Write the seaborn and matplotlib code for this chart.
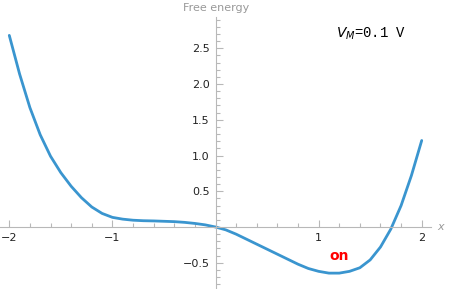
import numpy as np
import matplotlib
matplotlib.use("Agg")
import matplotlib.pyplot as plt
import seaborn as sns
from matplotlib.ticker import MultipleLocator, FixedLocator

# curve (x step 0.1)
x_vals = [-2.0, -1.9, -1.8, -1.7, -1.6, -1.5, -1.4, -1.3, -1.2, -1.1,
          -1.0, -0.9, -0.8, -0.7, -0.6, -0.5, -0.4, -0.3, -0.2, -0.1,
          0.0, 0.1, 0.2, 0.3, 0.4, 0.5, 0.6, 0.7, 0.8, 0.9,
          1.0, 1.1, 1.2, 1.3, 1.4, 1.5, 1.6, 1.7, 1.8, 1.9, 2.0]
energy = [2.68, 2.14, 1.67, 1.29, 0.99, 0.76, 0.57, 0.41, 0.28, 0.19,
          0.135, 0.11, 0.095, 0.088, 0.085, 0.08, 0.075, 0.065, 0.05, 0.03,
          0.0, -0.04, -0.10, -0.17, -0.24, -0.31, -0.38, -0.45, -0.52, -0.58,
          -0.62, -0.645, -0.645, -0.62, -0.57, -0.46, -0.28, -0.03, 0.30, 0.72, 1.21]

x_ticks = [-2, -1, 1, 2]
x_ticklabels = ["\u22122", "\u22121", "1", "2"]
y_ticks = [-0.5, 0.5, 1.0, 1.5, 2.0, 2.5]
y_ticklabels = ["\u22120.5", "0.5", "1.0", "1.5", "2.0", "2.5"]

sns.set_style("white")
plt.rcParams["font.family"] = ["DejaVu Sans"]

fig = plt.figure(figsize=(4.49, 2.89), dpi=100)
ax = fig.add_axes([0, 0, 431 / 449, 272 / 289])

sns.lineplot(x=x_vals, y=energy, ax=ax, color="#3a95cf", linewidth=2.0)

ax.set_xlim(-2.09, 2.09)
ax.set_ylim(-0.867, 2.937)

axis_col = "#b8b8b8"
for s in ["top", "right"]:
    ax.spines[s].set_visible(False)
ax.spines["left"].set_position(("data", 0))
ax.spines["bottom"].set_position(("data", 0))
for s in ["left", "bottom"]:
    ax.spines[s].set_color(axis_col)
    ax.spines[s].set_linewidth(0.8)

ax.xaxis.set_major_locator(FixedLocator(x_ticks))
ax.set_xticklabels(x_ticklabels)
ax.xaxis.set_minor_locator(MultipleLocator(0.2))
ax.yaxis.set_major_locator(FixedLocator(y_ticks))
ax.set_yticklabels(y_ticklabels)
ax.yaxis.set_minor_locator(MultipleLocator(0.1))

ax.tick_params(which="both", direction="in", color=axis_col, width=0.8,
               bottom=True, left=True, labelsize=8, labelcolor="#222222")
ax.tick_params(which="major", length=5, pad=4)
ax.tick_params(which="minor", length=3)

ax.text(2.15, 0.0, "x", fontsize=8, color="#999999", style="italic",
        va="center", ha="left")
fig.text(216 / 449, 1 - 8 / 289, "Free energy", fontsize=8, color="#999999",
         ha="center", va="center")

ax.text(1.17, 2.70, r"$V_M$=0.1 V", fontsize=10, color="black",
        family=["Liberation Mono", "DejaVu Sans Mono"], ha="left", va="center")
ax.text(1.20, -0.41, "on", fontsize=10, color="red", fontweight="bold",
        ha="center", va="center")

fig.savefig("out.png", dpi=100)
